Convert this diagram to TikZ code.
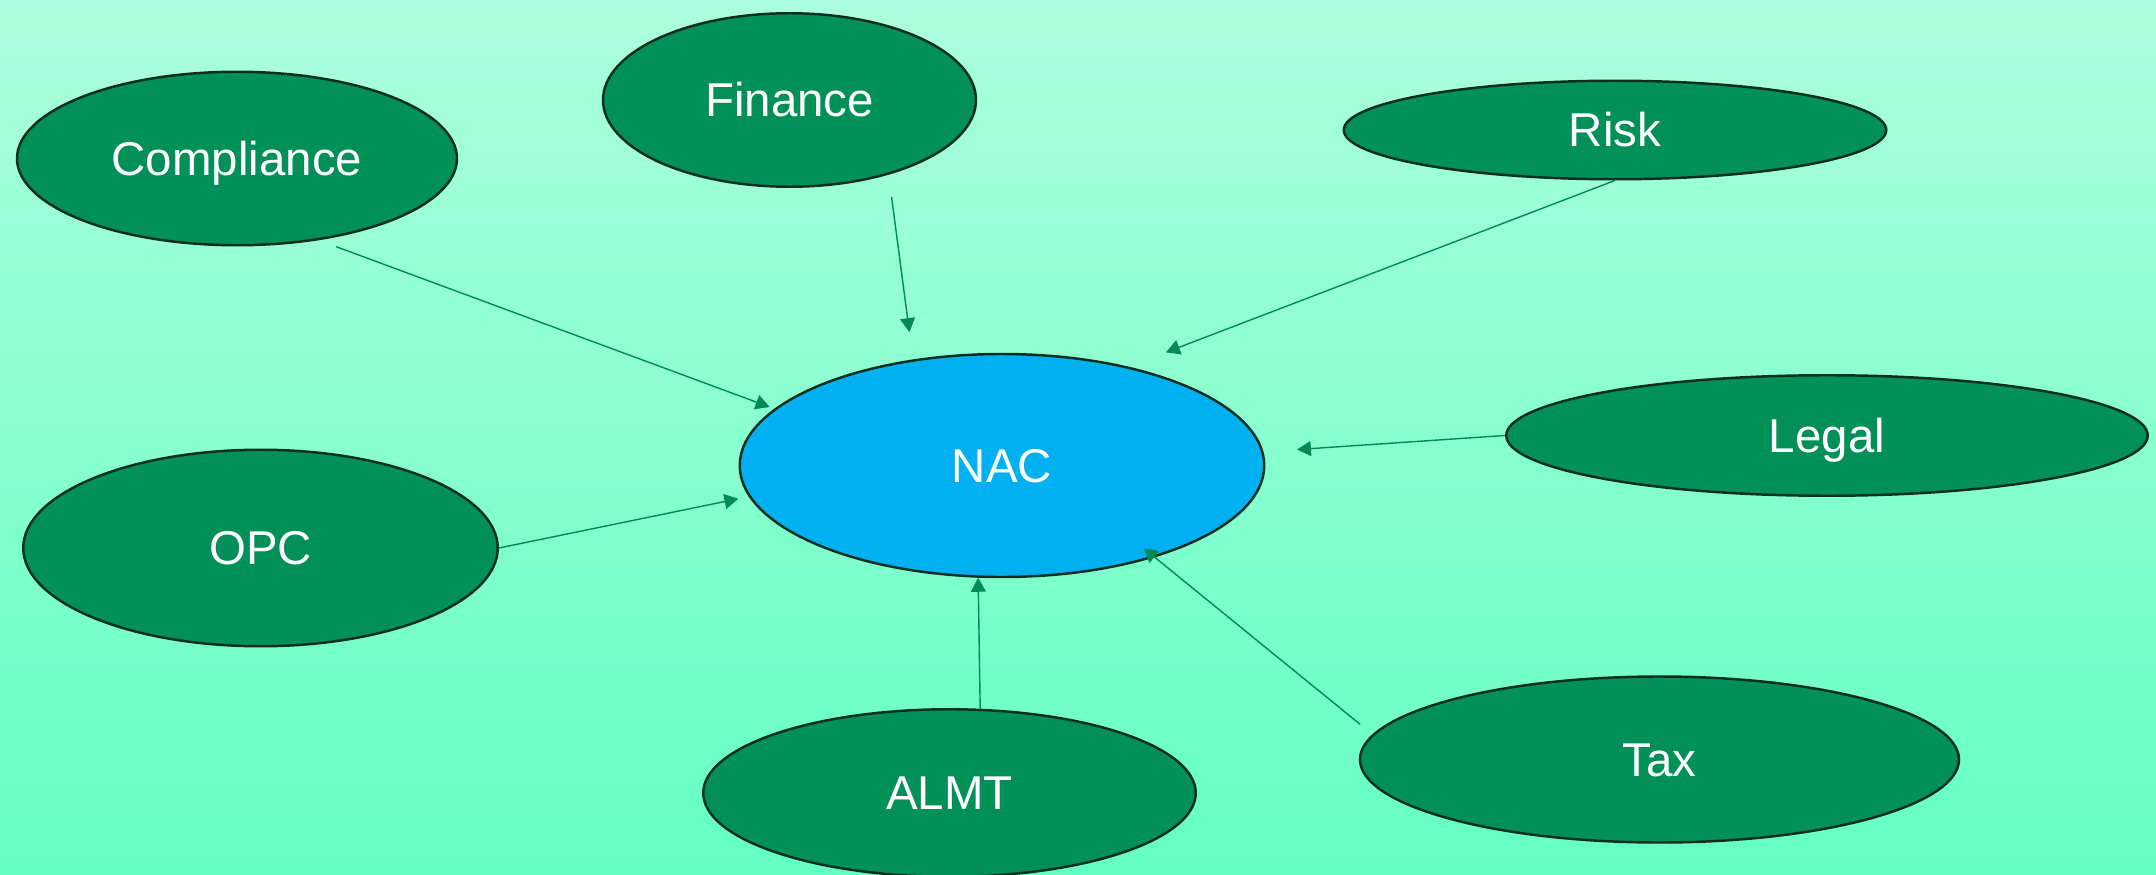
\documentclass[tikz,border=0pt]{standalone}
\usepackage{fontspec}
\setmainfont{Liberation Sans}
\usetikzlibrary{shapes.geometric,arrows.meta}

\definecolor{bgtop}{RGB}{172,255,222}
\definecolor{bgbottom}{RGB}{100,255,196}
\definecolor{deptgreen}{RGB}{0,144,88}
\definecolor{nacblue}{RGB}{0,176,240}
\definecolor{rimdark}{RGB}{14,46,30}
\definecolor{linkgreen}{RGB}{0,138,86}

\begin{document}
\begin{tikzpicture}[
    dept/.style={ellipse, draw=rimdark, line width=1.4pt, fill=deptgreen, text=white,
      inner sep=0pt, font=\fontsize{27}{32}\selectfont, text height=19.3pt, text depth=0pt},
    hub/.style={dept, fill=nacblue},
    link/.style={-{Triangle[length=0.28cm,width=0.3cm]}, draw=linkgreen, line width=0.8pt}
  ]
  \useasboundingbox (0,0) rectangle (43.12,17.48);
  \clip (0,0) rectangle (43.12,17.48);
  \shade[top color=bgtop, bottom color=bgbottom] (0,0) rectangle (43.12,17.48);

  % Centre node
  \node[hub, minimum width=10.49cm, minimum height=4.46cm] (nac) at (20.04,8.17) {NAC};

  % Top row
  \node[dept, minimum width=8.80cm, minimum height=3.47cm] (compliance) at (4.74,14.31) {Compliance};
  \node[dept, minimum width=7.46cm, minimum height=3.47cm] (finance) at (15.79,15.48) {Finance};
  \node[dept, minimum width=10.85cm, minimum height=1.97cm] (risk) at (32.30,14.88) {Risk};

  % Middle row
  \node[dept, minimum width=9.49cm, minimum height=3.93cm] (opc) at (5.21,6.52) {OPC};
  \node[dept, minimum width=12.83cm, minimum height=2.41cm] (legal) at (36.54,8.77) {Legal};

  % Bottom row
  \node[dept, minimum width=9.85cm, minimum height=3.35cm] (almt) at (18.99,1.62) {ALMT};
  \node[dept, minimum width=11.98cm, minimum height=3.32cm] (tax) at (33.19,2.29) {Tax};

  % Draw edges
  \draw[link, shorten <=0.37cm, shorten >=0.10cm] (compliance.-45.5) -- (nac.166.4);
  \draw[link, shorten <=0.45cm, shorten >=0.55cm] (finance.-37.8) -- (nac.130.8);
  \draw[link, shorten >=0.80cm] (risk.south) -- (nac.38.0);
  \draw[link, shorten >=0.67cm] (legal.west) -- (nac.3.3);
  \draw[link, shorten >=0.21cm] (opc.east) -- (nac.187.0);
  \draw[link] (almt.70.3) -- (nac.-102.3);
  \draw[link, shorten <=0.32cm, shorten >=-0.29cm] (tax.175.3) -- (nac.-31.1);
\end{tikzpicture}
\end{document}
